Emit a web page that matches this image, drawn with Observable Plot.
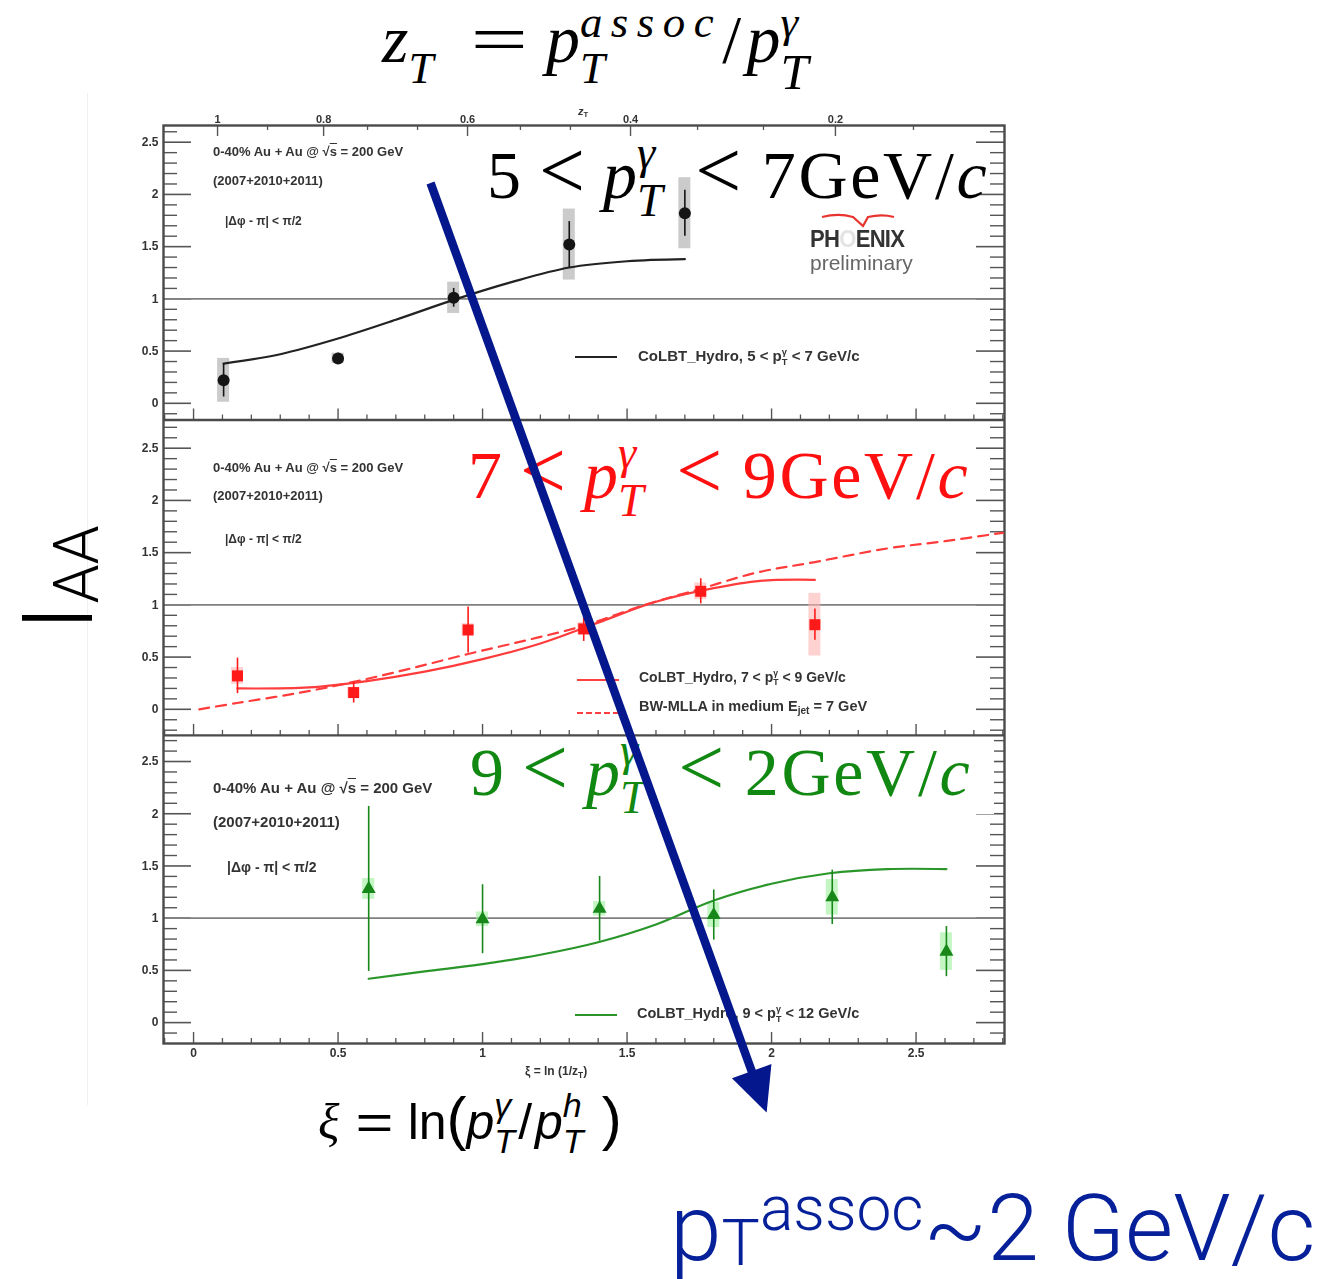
<!DOCTYPE html>
<html>
<head>
<meta charset="utf-8">
<script src="https://cdn.jsdelivr.net/npm/d3@7"></script>
<script src="https://cdn.jsdelivr.net/npm/@observablehq/plot@0.6"></script>
<style>
  body { margin: 0; background: #fff; }
  #fig { position: relative; width: 1327px; height: 1279px; overflow: hidden; background: #fff; }
  #fig > svg { position: absolute; left: 0; top: 0; }
  #panels { filter: blur(0.55px); }
  .lbl { position: absolute; white-space: nowrap; line-height: 1; }
  .math { font-family: "Liberation Serif", "DejaVu Serif", serif; }
  .math i { font-style: italic; }
  .ss { display: inline-grid; font-size: 0.68em; line-height: 0.8; }
  .ss > * { grid-area: 1 / 1; position: relative; justify-self: start; }
  .ss > .sp { top: -0.64em; }
  .ss > .sb { top: 0.4em; }
  .ss6 { display: inline-grid; font-size: 0.66em; line-height: 0.7; }
  .ss6 > * { grid-area: 1 / 1; position: relative; justify-self: start; }
  .ss6 > .sp { top: -0.56em; }
  .ss6 > .sb { top: 0.46em; }
  .lt { font-size: 1.2em; line-height: 0; }
  .wide { display: inline-block; line-height: 0; }
  .sub { font-size: 0.7em; position: relative; top: 0.3em; }
  .sans { font-family: "Roboto", "Lato", "Liberation Sans", sans-serif; font-weight: 300; }
  .sm { position: absolute; white-space: nowrap; line-height: 1; font-family: "Liberation Sans Narrow", "Liberation Sans", Arial, sans-serif;
        font-weight: bold; color: #333; filter: blur(0.45px); }
  .sm .ss { font-size: 0.62em; }
  .sw { position: absolute; height: 0; width: 42px; filter: blur(0.45px); }
</style>
</head>
<body>
<div id="fig"></div>
<script>
// ---- I_AA vs xi, 0-40% Au+Au, three photon pT bins ----

// 5 < pT^gamma < 7 GeV/c
const xi57   = [0.104, 0.50, 0.90, 1.30, 1.70];
const iaa57  = [0.22, 0.43, 1.01, 1.52, 1.82];
const stat57 = [0.16, 0.05, 0.09, 0.22, 0.22];
const sys57  = [0.21, 0.05, 0.15, 0.34, 0.34];
const colbt57Xi  = [0.104, 0.3, 0.5, 0.7, 0.9, 1.1, 1.3, 1.5, 1.7];
const colbt57Iaa = [0.38, 0.47, 0.62, 0.80, 0.99, 1.16, 1.30, 1.36, 1.38];

// 7 < pT^gamma < 9 GeV/c
const xi79   = [0.152, 0.554, 0.95, 1.35, 1.755, 2.15];
const iaa79  = [0.32, 0.16, 0.76, 0.77, 1.13, 0.81];
const stat79 = [0.17, 0.10, 0.22, 0.12, 0.12, 0.15];
const sys79  = [0.08, 0.05, 0.06, 0.06, 0.08, 0.30];
const colbt79Xi  = [0.152, 0.4, 0.6, 0.8, 1.0, 1.2, 1.4, 1.6, 1.8, 1.96, 2.15];
const colbt79Iaa = [0.20, 0.21, 0.27, 0.36, 0.48, 0.63, 0.83, 1.03, 1.16, 1.23, 1.24];
const mllaXi  = [0.02, 0.15, 0.35, 0.55, 0.75, 0.95, 1.15, 1.35, 1.55, 1.75, 1.95, 2.15, 2.4, 2.6, 2.8];
const mllaIaa = [0.0, 0.06, 0.15, 0.26, 0.39, 0.53, 0.66, 0.80, 0.99, 1.15, 1.31, 1.41, 1.54, 1.61, 1.69];

// 9 < pT^gamma < 12 GeV/c
const xi912   = [0.606, 1.0, 1.405, 1.80, 2.21, 2.605];
const iaa912  = [1.28, 0.99, 1.09, 1.03, 1.20, 0.68];
const stat912 = [0.79, 0.33, 0.31, 0.24, 0.26, 0.24];
const sys912  = [0.10, 0.07, 0.07, 0.12, 0.17, 0.18];
const colbt912Xi  = [0.606, 0.8, 1.0, 1.2, 1.4, 1.6, 1.8, 2.0, 2.2, 2.4, 2.605];
const colbt912Iaa = [0.42, 0.49, 0.56, 0.65, 0.77, 0.94, 1.17, 1.33, 1.43, 1.47, 1.47];

// axis labels
const yTickLabels = ["0", "0.5", "1", "1.5", "2", "2.5"];
const xTickValues = [0, 0.5, 1, 1.5, 2, 2.5];
const xTickLabels = ["0", "0.5", "1", "1.5", "2", "2.5"];
const zTickXi     = [0.083, 0.45, 0.948, 1.512, 2.221];
const zTickLabels = ["1", "0.8", "0.6", "0.4", "0.2"];
const zMinorXi    = [0.256, 0.602, 0.775, 1.131, 1.304, 1.744, 1.972, 2.491];

// arrow from the top bin down past the lowest one
const arrowLine = [{x1: 0.82, y1: 8.24, x2: 1.983, y2: -0.661}];

// ---- layout: three stacked panels share one y scale (panel offset + I_AA) ----
const W = 1327, H = 1279, ML = 163, MR = 323, MT = 125, MB = 236;
const xDomain = [-0.104, 2.806], yDomain = [0, 8.79];
const base = {
  width: W, height: H, marginLeft: ML, marginRight: MR, marginTop: MT, marginBottom: MB,
  x: {domain: xDomain, axis: null}, y: {domain: yDomain, axis: null},
  style: {background: "transparent", fontFamily: "'Liberation Sans', Arial, sans-serif"}
};

const panels = [
  {offset: 6.13, lo: 5.97, hi: 8.79, xi: xi57, iaa: iaa57, stat: stat57, sys: sys57,
   color: "#151515", sysFill: "#a8a8a8", symbol: "circle", r: 6,
   curves: [{xi: colbt57Xi, iaa: colbt57Iaa, color: "#222", dash: null}]},
  {offset: 3.20, lo: 2.95, hi: 5.97, xi: xi79, iaa: iaa79, stat: stat79, sys: sys79,
   color: "#ff1a1a", sysFill: "#ffb4b4", symbol: "square", r: 6.2,
   curves: [{xi: colbt79Xi, iaa: colbt79Iaa, color: "#ff3b3b", dash: null},
            {xi: mllaXi, iaa: mllaIaa, color: "#ff3b3b", dash: "10,7"}]},
  {offset: 0.20, lo: 0, hi: 2.95, xi: xi912, iaa: iaa912, stat: stat912, sys: sys912,
   color: "#17871a", sysFill: "#9cf09c", symbol: "triangle", r: 5.2,
   curves: [{xi: colbt912Xi, iaa: colbt912Iaa, color: "#2a962a", dash: null}]}
];

// inward ticks every 0.1 in I_AA, majors every 0.5
const tenths = d3.range(-3, 28);
const yTicks = panels.flatMap(p => tenths
  .map(k => ({y: p.offset + k / 10, major: k % 5 === 0, label: k >= 0 && k % 5 === 0 ? yTickLabels[k / 5] : null}))
  .filter(t => t.y > p.lo + 0.03 && t.y < p.hi - 0.03));
const yMajor = yTicks.filter(t => t.major), yMinor = yTicks.filter(t => !t.major);
const xTicks = d3.range(-1, 29).map(k => ({xi: k / 10, major: k % 5 === 0}));
const xMajor = xTicks.filter(t => t.major), xMinor = xTicks.filter(t => !t.major);
const xLabels = xTickValues.map((v, i) => ({xi: v, label: xTickLabels[i]}));
const zLabels = zTickXi.map((v, i) => ({xi: v, label: zTickLabels[i]}));

const axisStroke = "#555";
const marks = [];
// ticks on left and right
marks.push(Plot.ruleY(yMajor, {y: "y", x1: xDomain[0], x2: xDomain[0], insetRight: -28, stroke: axisStroke, strokeWidth: 1.6}));
marks.push(Plot.ruleY(yMinor, {y: "y", x1: xDomain[0], x2: xDomain[0], insetRight: -14, stroke: axisStroke, strokeWidth: 1.4}));
marks.push(Plot.ruleY(yMajor, {y: "y", x1: xDomain[1], x2: xDomain[1], insetLeft: -28, stroke: axisStroke, strokeWidth: 1.6}));
marks.push(Plot.ruleY(yMinor, {y: "y", x1: xDomain[1], x2: xDomain[1], insetLeft: -14, stroke: axisStroke, strokeWidth: 1.4}));
// ticks on each panel's lower edge
for (const p of panels) {
  marks.push(Plot.ruleX(xMajor, {x: "xi", y1: p.lo, y2: p.lo, insetTop: -11, stroke: axisStroke, strokeWidth: 1.4}));
  marks.push(Plot.ruleX(xMinor, {x: "xi", y1: p.lo, y2: p.lo, insetTop: -5, stroke: axisStroke, strokeWidth: 1.3}));
}
// z_T ticks along the top edge
marks.push(Plot.ruleX(zTickXi, {x: d => d, y1: yDomain[1], y2: yDomain[1], insetBottom: -11, stroke: axisStroke, strokeWidth: 1.4}));
marks.push(Plot.ruleX(zMinorXi, {x: d => d, y1: yDomain[1], y2: yDomain[1], insetBottom: -5, stroke: axisStroke, strokeWidth: 1.3}));
// frames and unity lines
marks.push(Plot.ruleY(panels.map(p => p.offset + 1), {stroke: "#808080", strokeWidth: 1.8}));
marks.push(Plot.ruleY([panels[1].hi, panels[2].hi], {stroke: "#4a4a4a", strokeWidth: 2.4}));
marks.push(Plot.frame({stroke: "#4a4a4a", strokeWidth: 2.4}));

for (const p of panels) {
  const pts = p.xi.map((x, i) => ({
    xi: x, y: p.iaa[i] + p.offset,
    lo: p.iaa[i] - p.stat[i] + p.offset, hi: p.iaa[i] + p.stat[i] + p.offset,
    slo: p.iaa[i] - p.sys[i] + p.offset, shi: p.iaa[i] + p.sys[i] + p.offset
  }));
  marks.push(Plot.rect(pts, {x1: "xi", x2: "xi", y1: "slo", y2: "shi", insetLeft: -6, insetRight: -6, fill: p.sysFill, fillOpacity: 0.6}));
  for (const c of p.curves) {
    const line = c.xi.map((x, i) => ({xi: x, y: c.iaa[i] + p.offset}));
    marks.push(Plot.line(line, {x: "xi", y: "y", curve: "catmull-rom", stroke: c.color, strokeWidth: 2.2,
                                strokeDasharray: c.dash ?? undefined}));
  }
  marks.push(Plot.ruleX(pts, {x: "xi", y1: "lo", y2: "hi", stroke: p.color, strokeWidth: 1.6}));
  marks.push(Plot.dot(pts, {x: "xi", y: "y", symbol: p.symbol, r: p.r, fill: p.color, stroke: "none"}));
}

// tick labels
const tickText = {fontSize: 12, fontWeight: "bold", fill: "#333"};
marks.push(Plot.text(yMajor.filter(t => t.label), {y: "y", text: "label", frameAnchor: "left", dx: -5, textAnchor: "end", ...tickText}));
marks.push(Plot.text(xLabels, {x: "xi", text: "label", frameAnchor: "bottom", dy: 13, ...tickText}));
marks.push(Plot.text(zLabels, {x: "xi", text: "label", frameAnchor: "top", dy: -10, ...tickText, fontSize: 11}));

const fig = document.getElementById("fig");
const panelSvg = Plot.plot({...base, marks});
panelSvg.id = "panels";
fig.appendChild(panelSvg);

// ---- text layer ----
const ssG = '<span class="ss"><i class="sp">γ</i><i class="sb">T</i></span>';
const ssGsm = '<span class="ss"><span class="sp">γ</span><span class="sb">T</span></span>';
const hdr = '0-40% Au + Au @ √<span style="text-decoration:overline">s</span> = 200 GeV';
const ptRange = (lo, hi) =>
  `${lo}<span class="lt" style="margin:0 0.22em">&lt;</span><i>p</i>${ssG}` +
  `<span class="lt" style="margin:0 0.25em 0 0.4em">&lt;</span><span style="letter-spacing:0.04em">${hi}GeV/<i>c</i></span>`;
const texts = `
<div style="position:absolute;left:87px;top:93px;height:1012px;border-left:1px solid #f0f0f0"></div>

<div class="sm" style="left:213px;top:145px;font-size:13px">${hdr}</div>
<div class="sm" style="left:213px;top:174px;font-size:13px">(2007+2010+2011)</div>
<div class="sm" style="left:225px;top:215px;font-size:12px">|Δφ - π| &lt; π/2</div>
<div class="sm" style="left:213px;top:461px;font-size:13px">${hdr}</div>
<div class="sm" style="left:213px;top:489px;font-size:13px">(2007+2010+2011)</div>
<div class="sm" style="left:225px;top:533px;font-size:12px">|Δφ - π| &lt; π/2</div>
<div class="sm" style="left:213px;top:780px;font-size:15px">${hdr}</div>
<div class="sm" style="left:213px;top:814px;font-size:15px">(2007+2010+2011)</div>
<div class="sm" style="left:227px;top:860px;font-size:14px">|Δφ - π| &lt; π/2</div>

<div class="sw" style="left:575px;top:356px;border-top:2px solid #222"></div>
<div class="sm" style="left:638px;top:348px;font-size:15px">CoLBT_Hydro, 5 &lt; p${ssGsm} &lt; 7 GeV/c</div>
<div class="sw" style="left:577px;top:679px;border-top:2px solid #ff4040"></div>
<div class="sm" style="left:639px;top:670px;font-size:14px">CoLBT_Hydro, 7 &lt; p${ssGsm} &lt; 9 GeV/c</div>
<div class="sw" style="left:577px;top:712px;border-top:2.5px dashed #ff4040"></div>
<div class="sm" style="left:639px;top:699px;font-size:14.5px">BW-MLLA in medium E<span class="sub">jet</span> = 7 GeV</div>
<div class="sw" style="left:575px;top:1014px;border-top:2px solid #2a962a"></div>
<div class="sm" style="left:637px;top:1006px;font-size:14.5px">CoLBT_Hydro, 9 &lt; p${ssGsm} &lt; 12 GeV/c</div>

<div class="sm" style="left:810px;top:212px;font-size:24px">
  <svg width="72" height="16" style="position:absolute;left:12px;top:0;overflow:visible">
    <path d="M0,5 C12,2 24,3 31,5 L41,14 L46,5 C55,3 64,3 72,5" stroke="#e8332f" fill="none" stroke-width="2.2"/>
  </svg>
  <div style="margin-top:15px;letter-spacing:-0.8px;transform:scaleX(0.92);transform-origin:0 0">PH<span style="color:#e4e4e4">O</span>ENIX</div>
  <div style="font-weight:normal;color:#666;font-size:21px;margin-top:1px">preliminary</div>
</div>

<div class="sm" style="left:578px;top:106px;font-size:11px"><i>z</i><span class="sub">T</span></div>
<div class="sm" style="left:525px;top:1065px;font-size:12px">ξ = ln (1/z<span class="sub">T</span>)</div>

<div class="lbl math" style="left:382px;top:5px;font-size:68px;color:#000"><i>z</i><span class="ss6"><i class="sb" style="visibility:hidden">T</i><i class="sb">T</i></span><span class="wide" style="transform:scaleX(1.5);margin:0 0.41em 0 0.68em">=</span><i>p</i><span class="ss6"><i class="sp" style="letter-spacing:0.19em">assoc</i><i class="sb">T</i></span>/<i style="margin-left:0.08em">p</i><span class="ss6"><i class="sp">γ</i><i class="sb" style="font-size:1.12em">T</i></span></div>

<div class="lbl math" style="left:487px;top:141px;font-size:68px;color:#000">${ptRange(5, 7)}</div>
<div class="lbl math" style="left:468px;top:441px;font-size:68px;color:#ff1010">${ptRange(7, 9)}</div>
<div class="lbl math" style="left:470px;top:738px;font-size:68px;color:#118811;background:#fff;padding:0 22px 8px 0">${ptRange(9, 2)}</div>

<div class="lbl sans" style="left:10px;top:631px;font-size:98px;color:#000;transform:rotate(-90deg);transform-origin:0 0">I<span style="font-size:0.64em;position:relative;top:0.09em;margin-left:0.02em">AA</span></div>

<div class="lbl" style="left:318px;top:1097px;font-size:50px;color:#000;font-family:'Liberation Sans',Arial,sans-serif"><span class="math"><i>ξ</i></span><span class="wide" style="transform:scaleX(1.3);margin:0 0.36em 0 0.42em">=</span>ln<span class="lt">(</span><i>p</i>${ssG}<span style="margin:0 0.06em">/</span><i>p</i><span class="ss"><i class="sp">h</i><i class="sb">T</i></span><span class="lt" style="margin-left:0.3em">)</span></div>

<div class="lbl sans" style="left:670px;top:1182px;font-size:93px;color:#06209a">p<span style="font-size:0.69em;position:relative;top:0.08em">T</span><span style="font-size:0.67em;position:relative;top:-0.48em">assoc</span>~2 GeV/c</div>
`;
fig.insertAdjacentHTML("beforeend", texts);

// ---- arrow on top of everything, same scales as the panels ----
const pxX = (W - ML - MR) / (xDomain[1] - xDomain[0]);
const pxY = (H - MT - MB) / (yDomain[1] - yDomain[0]);
const a = arrowLine[0];
const angle = 180 - Math.atan2((a.x2 - a.x1) * pxX, (a.y1 - a.y2) * pxY) * 180 / Math.PI;
const arrowHead = {
  draw(ctx) { ctx.moveTo(0, 0); ctx.lineTo(-21, 44); ctx.lineTo(21, 44); ctx.closePath(); }
};
const arrowColor = "#05178c";
const arrowSvg = Plot.plot({
  ...base,
  marks: [
    Plot.arrow(arrowLine, {x1: "x1", y1: "y1", x2: "x2", y2: "y2", stroke: arrowColor, strokeWidth: 8.5,
                           headLength: 0, insetEnd: 36, strokeLinecap: "butt"}),
    Plot.dot(arrowLine, {x: "x2", y: "y2", symbol: arrowHead, rotate: angle, fill: arrowColor, stroke: "none"})
  ]
});
fig.appendChild(arrowSvg);
</script>
</body>
</html>
